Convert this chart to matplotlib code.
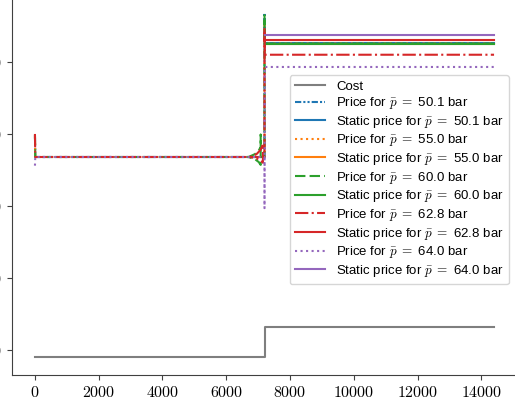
import numpy as np
import matplotlib
matplotlib.use("Agg")
import matplotlib.pyplot as plt
from matplotlib.ticker import FuncFormatter

plt.rcParams.update({"mathtext.fontset": "cm", "font.size": 11.5})

# ---- data -------------------------------------------------------------- #
cost_t = [0, 7200, 7200, 14400]
cost_v = [9.03, 9.03, 13.24, 13.24]

pressures = [50.1, 55.0, 60.0, 62.8, 64.0]
colors = ["tab:blue", "tab:orange", "tab:green", "tab:red", "tab:purple"]
styles = [(0, (3, 1, 1, 1, 1, 1)), ":", (0, (5, 2)), "-.", ":"]

# dynamic prices (time [s], price)
price_t = {
    50.1: [0, 10, 7200, 7200, 7210, 14400],
    55.0: [0, 10, 7200, 7200, 7210, 14400],
    60.0: [0, 10, 6700, 6900, 7020, 7080, 7080, 7080, 7020, 6900, 6700,
           7200, 7200, 7210, 14400],
    62.8: [0, 10, 6750, 6950, 7080, 7150, 7150, 7150, 7080, 6950, 6750,
           7200, 7200, 7210, 14400],
    64.0: [0, 10, 7200, 7200, 7210, 14400],
}
price_v = {
    50.1: [39.8, 36.8, 36.8, 56.8, 52.54, 52.54],
    55.0: [39.6, 36.8, 36.8, 55.5, 52.54, 52.54],
    60.0: [39.9, 36.8, 36.8, 37.2, 37.7, 38.2, 39.9, 35.7, 36.1, 36.5, 36.8,
           36.8, 56.5, 52.54, 52.54],
    62.8: [40.0, 36.8, 36.8, 37.2, 37.8, 38.6, 38.6, 36.0, 36.3, 36.6, 36.8,
           36.8, 54.6, 51.0, 51.0],
    64.0: [35.6, 36.8, 36.8, 29.7, 49.3, 49.3],
}

# static prices, second half only
static_t = [7200, 14400]
static_v = {50.1: 52.6, 55.0: 52.54, 60.0: 52.54, 62.8: 53.1, 64.0: 53.7}

yticks = [10, 20, 30, 40, 50]
xticks = [0, 2000, 4000, 6000, 8000, 10000, 12000, 14000]

# ---- figure ------------------------------------------------------------ #
W, H = 515, 403
fig = plt.figure(figsize=(W / 100, H / 100), dpi=100)
ax = fig.add_axes([12 / W, (H - 375) / H, 505 / W, 375 / H])

ax.plot(cost_t, cost_v, color="tab:gray", lw=1.5, label="Cost")
for p, c, ls in zip(pressures, colors, styles):
    ax.plot(price_t[p], price_v[p], color=c, ls=ls, lw=1.5,
            label=rf"Price for $\bar{{p}}$ $=$ {p:.1f} bar")
    ax.plot(static_t, [static_v[p]] * 2, color=c, lw=1.5,
            label=rf"Static price for $\bar{{p}}$ $=$ {p:.1f} bar")

ax.set_xlim(-720, 15120)
ax.set_ylim(6.53, 58.6)
ax.set_xticks(xticks)
ax.set_yticks(yticks)
fmt = FuncFormatter(lambda v, pos: f"${v:g}$")
ax.xaxis.set_major_formatter(fmt)
ax.yaxis.set_major_formatter(fmt)
for s in ["top", "right"]:
    ax.spines[s].set_visible(False)
for s in ["left", "bottom"]:
    ax.spines[s].set_color("0.25")
ax.tick_params(colors="0.25", labelcolor="black")

ax.legend(loc="upper right", bbox_to_anchor=(0.984, 0.8), borderaxespad=0,
          prop={"family": "Liberation Sans", "size": 9.5},
          handlelength=2.3, labelspacing=0.2)

fig.savefig("out.png", dpi=100)
